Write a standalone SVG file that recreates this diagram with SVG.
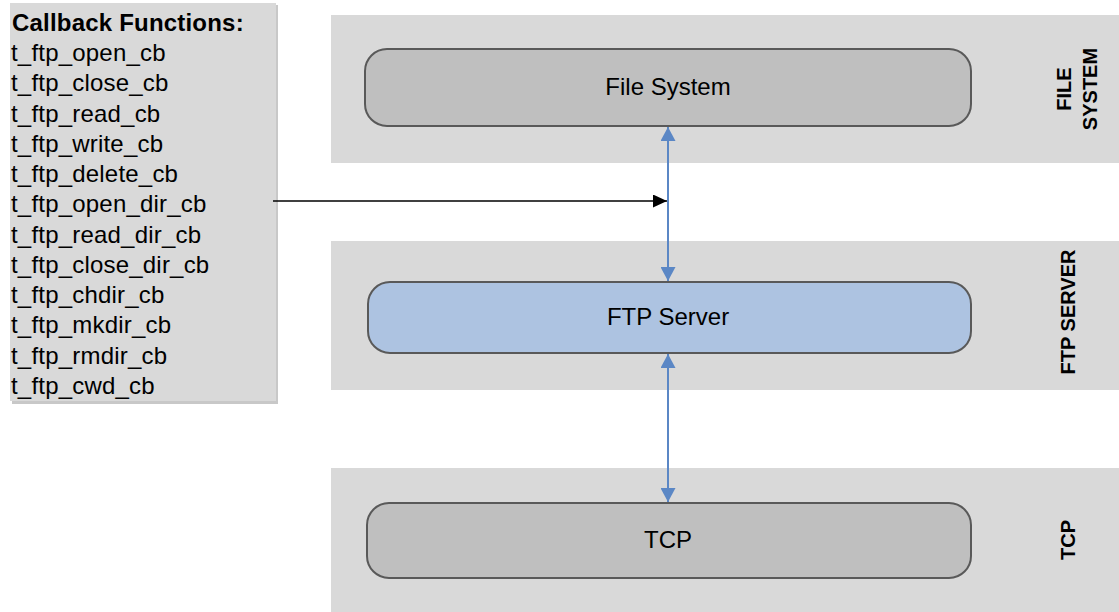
<svg xmlns="http://www.w3.org/2000/svg" width="1119" height="612" viewBox="0 0 1119 612">
<style>
.lane{fill:#d9d9d9}
.node{stroke:#595959;stroke-width:2}
.gray{fill:#bfbfbf}
.blue{fill:#adc3e1}
.lbl{font-family:"Liberation Sans",Arial,sans-serif;font-size:24px;fill:#000;text-anchor:middle}
.side{font-family:"Liberation Sans",Arial,sans-serif;font-size:20px;font-weight:bold;fill:#000;text-anchor:middle}
.list{font-family:"Liberation Sans",Arial,sans-serif;font-size:24px;fill:#000;letter-spacing:0.2px}
.bl{stroke:#5b87c5;stroke-width:2;fill:none}
</style>
<defs>
<marker id="ab" viewBox="0 0 10 10" refX="10" refY="5" markerWidth="14" markerHeight="15" markerUnits="userSpaceOnUse" orient="auto-start-reverse" preserveAspectRatio="none">
<path d="M0,0 L10,5 L0,10 Z" fill="#5b87c5"/>
</marker>
<marker id="ak" viewBox="0 0 10 10" refX="10" refY="5" markerWidth="14" markerHeight="13" markerUnits="userSpaceOnUse" orient="auto" preserveAspectRatio="none">
<path d="M0,0 L10,5 L0,10 Z" fill="#000"/>
</marker>
</defs>
<rect width="1119" height="612" fill="#fff"/>
<g id="lane-filesystem">
<rect class="lane" x="331" y="15" width="788" height="148"/>
<text class="side" transform="translate(1071,89) rotate(-90)">FILE</text>
<text class="side" transform="translate(1097,89) rotate(-90)">SYSTEM</text>
</g>
<g id="lane-ftpserver">
<rect class="lane" x="331" y="241" width="788" height="149"/>
<text class="side" transform="translate(1075,312) rotate(-90)">FTP SERVER</text>
</g>
<g id="lane-tcp">
<rect class="lane" x="331" y="468" width="788" height="144"/>
<text class="side" transform="translate(1075,540) rotate(-90)">TCP</text>
</g>
<g id="callbacks">
<rect x="12" y="5" width="266" height="399" fill="#c8c8c8"/>
<rect x="10" y="3" width="266" height="398" fill="#d9d9d9"/>
<text class="list" x="12" y="31" font-weight="bold">Callback Functions:</text>
<text class="list" x="11" y="61">t_ftp_open_cb</text>
<text class="list" x="11" y="91.3">t_ftp_close_cb</text>
<text class="list" x="11" y="121.5">t_ftp_read_cb</text>
<text class="list" x="11" y="151.8">t_ftp_write_cb</text>
<text class="list" x="11" y="182.1">t_ftp_delete_cb</text>
<text class="list" x="11" y="212.4">t_ftp_open_dir_cb</text>
<text class="list" x="11" y="242.6">t_ftp_read_dir_cb</text>
<text class="list" x="11" y="272.9">t_ftp_close_dir_cb</text>
<text class="list" x="11" y="303.2">t_ftp_chdir_cb</text>
<text class="list" x="11" y="333.4">t_ftp_mkdir_cb</text>
<text class="list" x="11" y="363.7">t_ftp_rmdir_cb</text>
<text class="list" x="11" y="394">t_ftp_cwd_cb</text>
</g>
<g id="filesystem">
<rect class="node gray" x="365" y="49" width="606" height="77" rx="22"/>
<text class="lbl" x="668" y="95">File System</text>
</g>
<g id="ftpserver">
<rect class="node blue" x="368" y="282" width="603" height="71" rx="22"/>
<text class="lbl" x="668" y="325">FTP Server</text>
</g>
<g id="tcp">
<rect class="node gray" x="367" y="503" width="604" height="75" rx="22"/>
<text class="lbl" x="668" y="548">TCP</text>
</g>
<g id="connectors">
<line class="bl" x1="668" y1="281" x2="668" y2="127" marker-start="url(#ab)" marker-end="url(#ab)"/>
<line class="bl" x1="668" y1="502" x2="668" y2="354" marker-start="url(#ab)" marker-end="url(#ab)"/>
<line x1="273" y1="201" x2="667" y2="201" stroke="#000" stroke-width="1.5" marker-end="url(#ak)"/>
</g>
</svg>
